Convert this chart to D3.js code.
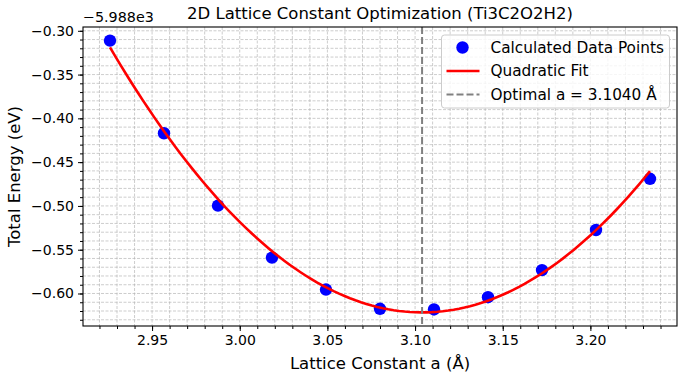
<!DOCTYPE html>
<html>
<head>
<meta charset="utf-8">
<script src="https://cdn.jsdelivr.net/npm/d3@7"></script>
<style>
  body { margin: 0; background: #fff; }
  svg { display: block; font-family: "DejaVu Sans", sans-serif; }
</style>
</head>
<body>
<div id="chart"></div>
<script>
// Lattice constants (Å) and total energies, relative to the -5988 eV offset
const latticeA = [2.926, 2.9568, 2.9876, 3.0184, 3.0492, 3.08, 3.1108, 3.1416, 3.1724, 3.2032, 3.234];
const energyRel = [-0.3112, -0.4170, -0.4997, -0.5590, -0.5955, -0.6175, -0.6182, -0.6042, -0.5733, -0.5275, -0.4690];
const energyOffset = -5988;
const optimalA = 3.1040;
// quadratic fit: E = fitMin + fitCurv * (a - optimalA)^2
const fitMin = -0.6216;
const fitCurv = 9.55;
const xTicks = [2.95, 3.00, 3.05, 3.10, 3.15, 3.20];
const yTicks = [-0.60, -0.55, -0.50, -0.45, -0.40, -0.35, -0.30];

const width = 685, height = 383;
const margin = {top: 27, right: 8, bottom: 57, left: 83};

const n = latticeA.length;
const fitY = a => fitMin + fitCurv * (a - optimalA) * (a - optimalA);
const fitX = d3.range(100).map(i => latticeA[0] + (latticeA[n - 1] - latticeA[0]) * i / 99);
const fitPts = fitX.map(a => [a, fitY(a)]);

// 5% margins like matplotlib autoscale
const xExt = d3.extent(latticeA);
const yExt = d3.extent([...energyRel, ...fitPts.map(p => p[1])]);
const xPad = (xExt[1] - xExt[0]) * 0.05, yPad = (yExt[1] - yExt[0]) * 0.05;

const x = d3.scaleLinear()
    .domain([xExt[0] - xPad, xExt[1] + xPad])
    .range([margin.left, width - margin.right]);
const y = d3.scaleLinear()
    .domain([yExt[0] - yPad, yExt[1] + yPad])
    .range([height - margin.bottom, margin.top]);

const svg = d3.create("svg")
    .attr("width", width)
    .attr("height", height);

const fmt = d3.format(".2f");
const minorX = d3.range(Math.ceil(x.domain()[0] * 100), Math.floor(x.domain()[1] * 100) + 1).map(v => v / 100);
const minorY = d3.range(Math.ceil(y.domain()[0] * 100), Math.floor(y.domain()[1] * 100) + 1).map(v => v / 100);

// grid (major + minor, dashed)
const grid = svg.append("g")
    .attr("stroke", "#b0b0b0")
    .attr("stroke-width", 0.8)
    .attr("stroke-dasharray", "3,1.5")
    .attr("stroke-opacity", 0.8);
grid.selectAll(".gx").data(minorX).join("line")
    .attr("x1", d => x(d)).attr("x2", d => x(d))
    .attr("y1", margin.top).attr("y2", height - margin.bottom);
grid.selectAll(".gy").data(minorY).join("line")
    .attr("y1", d => y(d)).attr("y2", d => y(d))
    .attr("x1", margin.left).attr("x2", width - margin.right);

// data points
svg.append("g").selectAll("circle")
    .data(latticeA)
    .join("circle")
    .attr("cx", d => x(d))
    .attr("cy", (d, i) => y(energyRel[i]))
    .attr("r", 6.2)
    .attr("fill", "#0000ff");

// quadratic fit
svg.append("path")
    .datum(fitPts)
    .attr("fill", "none")
    .attr("stroke", "#ff0000")
    .attr("stroke-width", 2.6)
    .attr("d", d3.line().x(d => x(d[0])).y(d => y(d[1])));

// optimal lattice constant
svg.append("line")
    .attr("x1", x(optimalA)).attr("x2", x(optimalA))
    .attr("y1", margin.top).attr("y2", height - margin.bottom)
    .attr("stroke", "#808080")
    .attr("stroke-width", 2)
    .attr("stroke-dasharray", "7,3");

// axes
const xAxis = svg.append("g")
    .attr("transform", `translate(0,${height - margin.bottom})`)
    .call(d3.axisBottom(x).tickValues(xTicks).tickFormat(fmt).tickSize(5).tickPadding(4));
svg.append("g")
    .attr("transform", `translate(0,${height - margin.bottom})`)
    .call(d3.axisBottom(x).tickValues(minorX).tickFormat("").tickSize(3))
    .call(g => g.select(".domain").remove());
const yAxis = svg.append("g")
    .attr("transform", `translate(${margin.left},0)`)
    .call(d3.axisLeft(y).tickValues(yTicks).tickFormat(fmt).tickSize(5).tickPadding(4));
svg.append("g")
    .attr("transform", `translate(${margin.left},0)`)
    .call(d3.axisLeft(y).tickValues(minorY).tickFormat("").tickSize(3))
    .call(g => g.select(".domain").remove());
svg.selectAll(".tick line").attr("stroke", "#000").attr("stroke-width", 1);
svg.selectAll(".tick text").attr("font-size", 14).attr("fill", "#000")
    .attr("font-family", "DejaVu Sans");

// frame
svg.append("rect")
    .attr("x", margin.left).attr("y", margin.top)
    .attr("width", width - margin.left - margin.right)
    .attr("height", height - margin.top - margin.bottom)
    .attr("fill", "none").attr("stroke", "#000").attr("stroke-width", 1.1);
xAxis.select(".domain").remove();
yAxis.select(".domain").remove();

// offset text
svg.append("text")
    .attr("x", margin.left).attr("y", 21.5)
    .attr("font-size", 14.3)
    .text("\u22125.988e3");

// title and labels
svg.append("text")
    .attr("x", (margin.left + width - margin.right) / 2).attr("y", 18.5)
    .attr("text-anchor", "middle").attr("font-size", 16.5)
    .text("2D Lattice Constant Optimization (Ti3C2O2H2)");
svg.append("text")
    .attr("x", (margin.left + width - margin.right) / 2).attr("y", 369)
    .attr("text-anchor", "middle").attr("font-size", 16.5)
    .text("Lattice Constant a (Å)");
svg.append("text")
    .attr("transform", `translate(19.5,${(margin.top + height - margin.bottom) / 2}) rotate(-90)`)
    .attr("text-anchor", "middle").attr("font-size", 16.5)
    .text("Total Energy (eV)");

// legend
const legend = svg.append("g").attr("transform", "translate(441.5,35)");
legend.append("rect")
    .attr("width", 228).attr("height", 73).attr("rx", 3)
    .attr("fill", "#fff").attr("fill-opacity", 0.8)
    .attr("stroke", "#cccccc").attr("stroke-width", 1);
const items = [
  {label: "Calculated Data Points", type: "dot"},
  {label: "Quadratic Fit", type: "line"},
  {label: `Optimal a = ${optimalA.toFixed(4)} Å`, type: "dash"}
];
const row = legend.selectAll(".item").data(items).join("g")
    .attr("transform", (d, i) => `translate(0,${12.5 + i * 23.5})`);
row.filter(d => d.type === "dot").append("circle")
    .attr("cx", 21).attr("cy", 0).attr("r", 6.2).attr("fill", "#0000ff");
row.filter(d => d.type === "line").append("line")
    .attr("x1", 5).attr("x2", 38).attr("stroke", "#ff0000").attr("stroke-width", 2.6);
row.filter(d => d.type === "dash").append("line")
    .attr("x1", 5).attr("x2", 38).attr("stroke", "#808080").attr("stroke-width", 2)
    .attr("stroke-dasharray", "7,3");
row.append("text")
    .attr("x", 49).attr("y", 5.4)
    .attr("font-size", 15.3)
    .text(d => d.label);

d3.select("#chart").node().appendChild(svg.node());
</script>
</body>
</html>
